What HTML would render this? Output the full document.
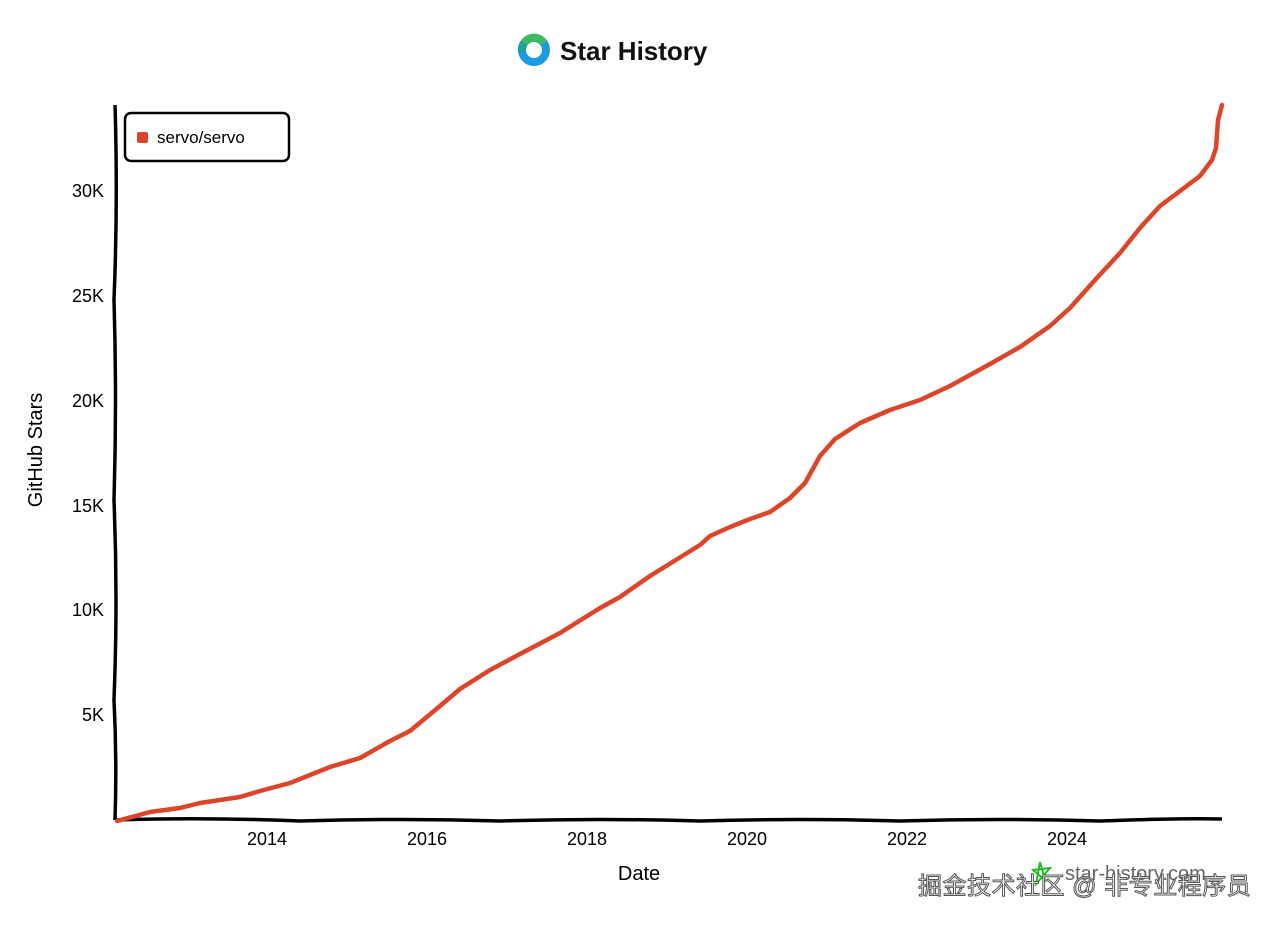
<!DOCTYPE html>
<html><head><meta charset="utf-8"><style>
body{margin:0;background:#fff;}
svg text{font-family:"Comic Sans MS","Liberation Sans",sans-serif;}
</style></head><body>
<svg width="1280" height="925" viewBox="0 0 1280 925" xmlns="http://www.w3.org/2000/svg">
<rect width="1280" height="925" fill="#fff"/>
<g transform="translate(534,50)">
<circle r="12" fill="none" stroke="#1e9be0" stroke-width="8"/>
<path d="M-10,-7 A12,12 0 0 1 10,-7" stroke="#3dbb5f" stroke-width="8" fill="none"/>
<path d="M-12,2 A12,12 0 0 1 -10,-7" stroke="#1aa39c" stroke-width="8" fill="none"/>
</g>
<text x="560" y="60" font-size="26" font-weight="bold" fill="#111">Star History</text>
<path d="M115,105 Q118,200 114,300 Q117,400 114,500 Q118,600 114,700 Q117,760 115,820" stroke="#000" stroke-width="3.5" fill="none"/>
<path d="M115,820 Q200,817 300,821 Q400,818 500,821 Q600,818 700,821 Q800,818 900,821 Q1000,818 1100,821 Q1180,818 1222,819" stroke="#000" stroke-width="3.5" fill="none"/>
<g font-size="18" fill="#000" text-anchor="end">
<text x="104" y="721">5K</text><text x="104" y="616">10K</text><text x="104" y="512">15K</text>
<text x="104" y="407">20K</text><text x="104" y="302">25K</text><text x="104" y="197">30K</text>
</g>
<g font-size="18" fill="#000" text-anchor="middle">
<text x="267" y="845">2014</text><text x="427" y="845">2016</text><text x="587" y="845">2018</text>
<text x="747" y="845">2020</text><text x="907" y="845">2022</text><text x="1067" y="845">2024</text>
<text x="639" y="880" font-size="20">Date</text>
</g>
<text transform="translate(42,450) rotate(-90)" font-size="20" text-anchor="middle" fill="#000">GitHub Stars</text>
<rect x="125" y="113" width="164" height="48" rx="6" fill="#fff" stroke="#000" stroke-width="2.5"/>
<rect x="137" y="132" width="11" height="11" rx="2" fill="#dd4528"/>
<text x="157" y="143" font-size="17" fill="#000">servo/servo</text>
<polyline fill="none" stroke="#dd4528" stroke-width="4.5" stroke-linejoin="round" stroke-linecap="round" points="117,821 150,812 180,808 200,803 240,797 260,791 290,783 330,767 360,758 390,741 410,731 440,706 460,689 490,670 520,654 560,633 600,608 620,597 650,576 700,545 710,536 730,527 750,519 770,512 790,498 805,483 820,456 835,439 860,423 890,410 920,400 950,386 990,364 1020,347 1050,326 1070,308 1095,280 1120,253 1140,228 1160,206 1180,191 1200,176 1212,160 1216,148 1218,120 1222,105"/>
<path d="M1040,862 L1045,880 L1033,870 L1050,868 L1036,884 Z" fill="none" stroke="#22bb22" stroke-width="2"/>
<text x="1065" y="880" font-size="20" fill="#666">star-history.com</text>
<text x="918" y="894" font-size="24" letter-spacing="0.5" fill="#fff" stroke="#555" stroke-width="1" style="font-family:'Liberation Sans','Noto Sans CJK SC',sans-serif">掘金技术社区 @ 非专业程序员</text>
</svg>
</body></html>
